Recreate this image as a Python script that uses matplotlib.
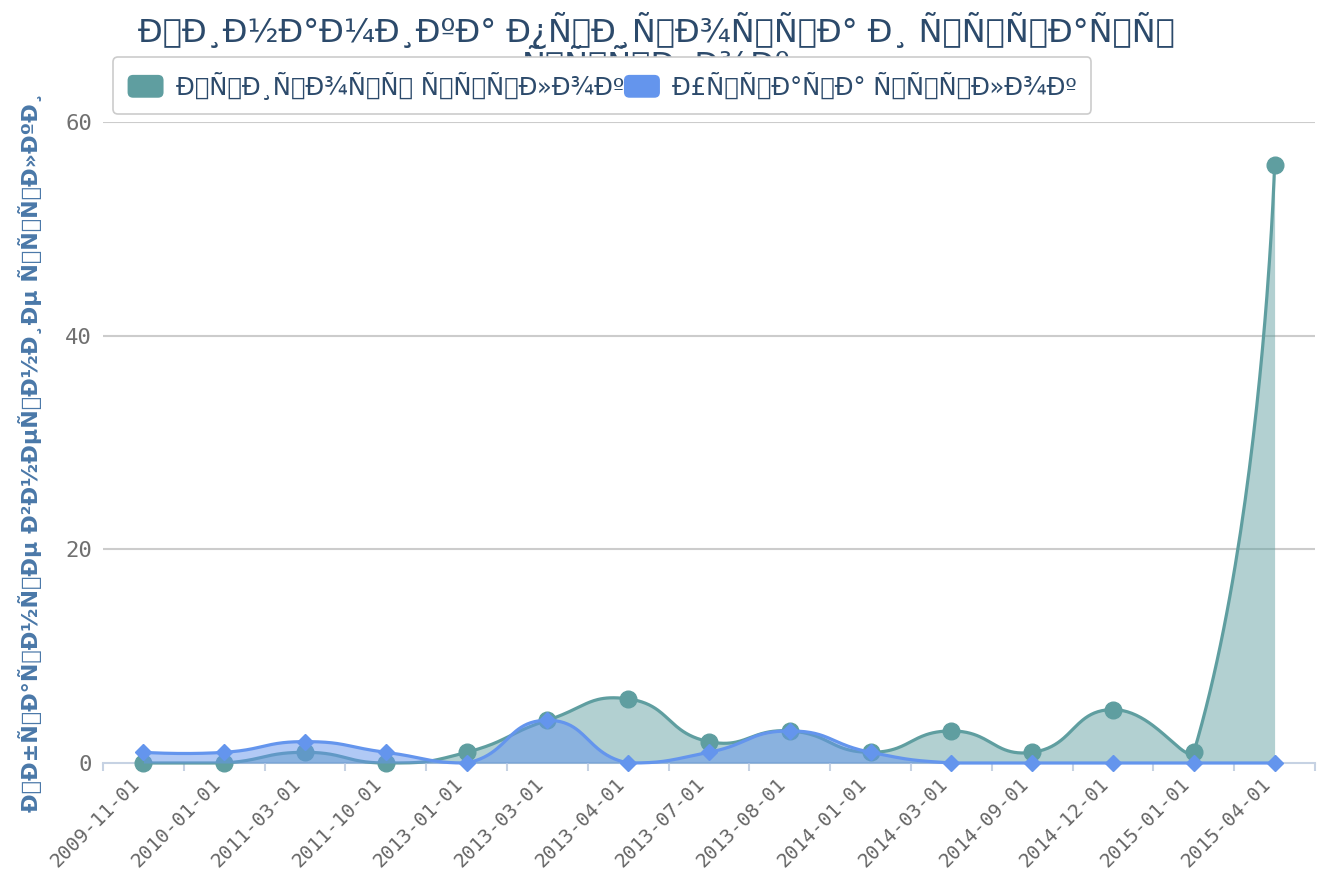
import numpy as np
import matplotlib
matplotlib.use("Agg")
import matplotlib.pyplot as plt
from matplotlib.patches import Patch, FancyBboxPatch
from matplotlib.legend_handler import HandlerPatch
from matplotlib.transforms import ScaledTranslation

def moj(s):
    return s.encode("utf-8").decode("latin-1")

categories = ["2009-11-01", "2010-01-01", "2011-03-01", "2011-10-01", "2013-01-01",
              "2013-03-01", "2013-04-01", "2013-07-01", "2013-08-01", "2014-01-01",
              "2014-03-01", "2014-09-01", "2014-12-01", "2015-01-01", "2015-04-01"]
growth = [0, 0, 1, 0, 1, 4, 6, 2, 3, 1, 3, 1, 5, 1, 56]
loss = [1, 1, 2, 1, 0, 4, 0, 1, 3, 1, 0, 0, 0, 0, 0]

title_text = moj("Динамика прироста и утраты\nссылок")
growth_name = moj("Прирост ссылок")
loss_name = moj("Утрата ссылок")
ylabel_text = moj("Обратные внешние ссылки")

TEAL = "#5f9ea0"
BLUE = "#6495ed"
TXT = "#2c4a6b"

W, H = 1324, 875
fig = plt.figure(figsize=(W / 100, H / 100), dpi=100)
L, R, T, B = 103, 1315, 122, 763
ax = fig.add_axes([L / W, 1 - B / H, (R - L) / W, (B - T) / H])
ax.set_xlim(-0.5, len(categories) - 0.5)
ax.set_ylim(0, 60)

def smooth_curve(xs, ys, smooth=0.5, nseg=50):
    pts = ax.transData.transform(np.column_stack([xs, ys]))
    pmin = pts.min(axis=0)
    pmax = pts.max(axis=0)
    n = len(pts)
    out = [pts[0]]
    cp0 = pts[0].copy()
    for i in range(1, n):
        p = pts[i]
        prev = pts[i - 1]
        if i + 1 < n:
            nxt = pts[i + 1]
            v = nxt - prev
            lp = np.hypot(*(p - prev))
            ln = np.hypot(*(nxt - p))
            r = ln / (ln + lp) if (ln + lp) > 0 else 0.5
            cp1 = p - v * smooth * (1 - r)
            ncp0 = p + v * smooth * r
        else:
            cp1 = p.copy()
            ncp0 = p.copy()
        cp0c = np.clip(cp0, pmin, pmax)
        cp1c = np.clip(cp1, pmin, pmax)
        t = np.linspace(0, 1, nseg)[1:, None]
        seg = ((1 - t) ** 3) * prev + 3 * ((1 - t) ** 2) * t * cp0c + 3 * (1 - t) * t ** 2 * cp1c + t ** 3 * p
        out.extend(seg)
        cp0 = ncp0
    out = np.array(out)
    return ax.transData.inverted().transform(out)

x = np.arange(len(categories))

for v in [20, 40, 60]:
    ax.axhline(v, color="#cccccc", lw=1.5, zorder=0)

cg = smooth_curve(x, growth)
ax.fill_between(cg[:, 0], cg[:, 1], 0, color=TEAL, alpha=0.48, lw=0, zorder=1)
ax.plot(cg[:, 0], cg[:, 1], color=TEAL, lw=2.3, zorder=2, clip_on=False, solid_capstyle="round")
ax.plot(x, growth, ls="none", marker="o", ms=12, color=TEAL, zorder=3, clip_on=False)

cl = smooth_curve(x, loss)
ax.fill_between(cl[:, 0], cl[:, 1], 0, color=BLUE, alpha=0.5, lw=0, zorder=4)
ax.plot(cl[:, 0], cl[:, 1], color=BLUE, lw=2.3, zorder=5, clip_on=False, solid_capstyle="round")
ax.plot(x, loss, ls="none", marker="D", ms=8.5, color=BLUE, zorder=6, clip_on=False)

for s in ["top", "right", "left"]:
    ax.spines[s].set_visible(False)
ax.spines["bottom"].set_color("#c6d2e3")
ax.spines["bottom"].set_linewidth(1.5)
ax.spines["bottom"].set_zorder(0.5)

ax.set_xticks(x)
ax.set_xticklabels(categories, rotation=45, ha="right", va="center", rotation_mode="anchor",
                   family="DejaVu Sans Mono", fontsize=14, color="#666666")
ax.tick_params(axis="x", length=0, pad=13)
shift = ScaledTranslation(-7 / 100, 0, fig.dpi_scale_trans)
for lab in ax.get_xticklabels():
    lab.set_transform(lab.get_transform() + shift)
ax.set_xticks(np.arange(-0.5, len(categories), 1), minor=True)
ax.tick_params(axis="x", which="minor", length=6, width=1.5, color="#c6d2e3")

ax.set_yticks([0, 20, 40, 60])
ax.set_yticklabels(["0", "20", "40", "60"], family="DejaVu Sans Mono", fontsize=16, color="#707070")
ax.tick_params(axis="y", length=0, pad=8)

fig.text(30 / W, 1 - 452 / H, ylabel_text, rotation=90, ha="center", va="center",
         fontsize=16, fontweight="bold", color="#4a78a8")

fig.text(656 / W, 1 - 12 / H, title_text, ha="center", va="top", fontsize=23,
         color=TXT, linespacing=0.88, zorder=1)

class RoundHandler(HandlerPatch):
    def create_artists(self, legend, orig_handle, xdescent, ydescent, width, height, fontsize, trans):
        p = FancyBboxPatch((-xdescent, -ydescent), width, height,
                           boxstyle="round,pad=0,rounding_size=4",
                           fc=orig_handle.get_facecolor(), ec="none", transform=trans)
        return [p]

handles = [Patch(fc=TEAL), Patch(fc=BLUE)]
leg = fig.legend(handles, [growth_name, loss_name], loc="upper left",
                 bbox_to_anchor=(113 / W, 1 - 57 / H), ncol=2, fontsize=17.5,
                 handler_map={Patch: RoundHandler()}, handlelength=1.48, handleheight=1.07,
                 handletextpad=0.5, columnspacing=0.0, borderpad=0.6, borderaxespad=0,
                 frameon=True, fancybox=True, framealpha=1, edgecolor="#cccccc",
                 labelcolor=TXT)
leg.get_frame().set_linewidth(1.2)
leg.set_zorder(10)

fig.savefig("out.png", dpi=100)
